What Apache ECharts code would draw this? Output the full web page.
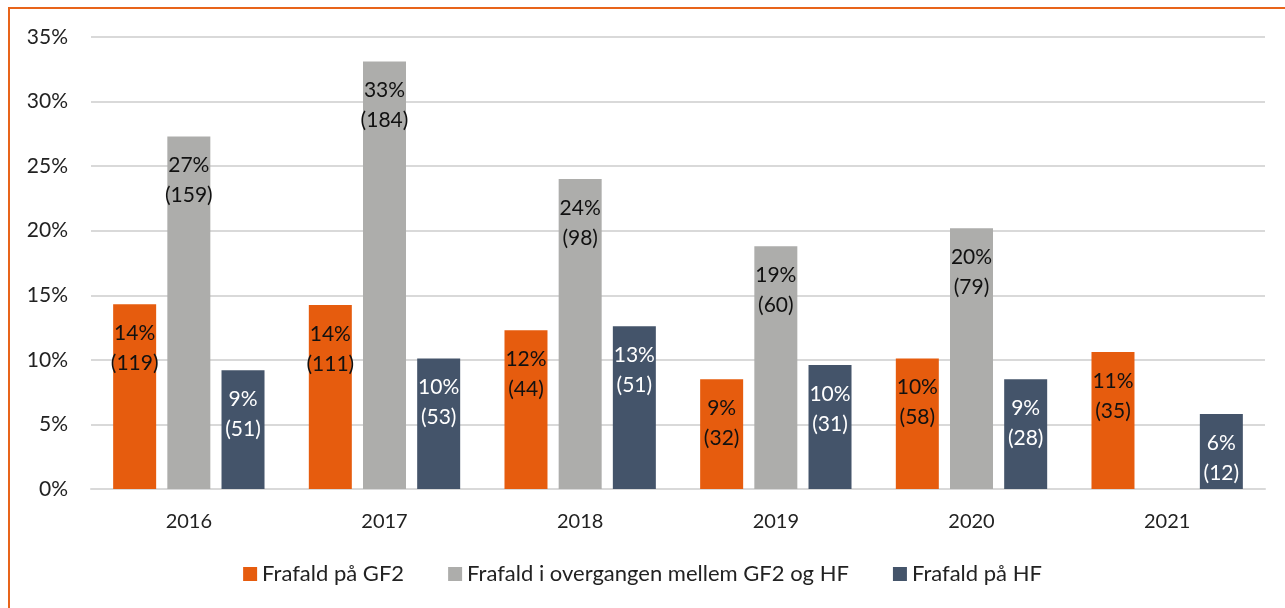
<!DOCTYPE html>
<html>
<head>
<meta charset="utf-8">
<script src="https://cdn.jsdelivr.net/npm/echarts@6/dist/echarts.min.js"></script>
<style>
  html, body { margin: 0; padding: 0; background: #fff; }
  #chart { width: 1285px; height: 608px; }
</style>
</head>
<body>
<div id="chart"></div>
<script>
// data
var years = ['2016', '2017', '2018', '2019', '2020', '2021'];
var gf2Pct = [14.3, 14.25, 12.3, 8.5, 10.1, 10.6];
var gf2N = [119, 111, 44, 32, 58, 35];
var overgangPct = [27.3, 33.1, 24.0, 18.8, 20.2, null];
var overgangN = [159, 184, 98, 60, 79, null];
var hfPct = [9.2, 10.1, 12.6, 9.6, 8.5, 5.8];
var hfN = [51, 53, 51, 31, 28, 12];
var yTicks = [0, 5, 10, 15, 20, 25, 30, 35];

var fontFam = 'Lato, "Open Sans", sans-serif';

function makeLabel(counts, color) {
  return {
    show: true,
    position: 'insideTop',
    distance: 14,
    color: color,
    fontSize: 21,
    lineHeight: 30,
    fontFamily: fontFam,
    formatter: function (p) {
      if (p.value == null) return '';
      return Math.round(p.value) + '%\n(' + counts[p.dataIndex] + ')';
    }
  };
}

var chart = echarts.init(document.getElementById('chart'));
chart.setOption({
  backgroundColor: '#fff',
  animation: false,
  graphic: [{
    type: 'rect',
    shape: { x: 9, y: 8, width: 1400, height: 700 },
    style: { fill: 'none', stroke: '#E8641A', lineWidth: 2 }
  }],
  grid: { left: 91, right: 20, top: 37, bottom: 119 },
  legend: {
    bottom: 18,
    left: 'center',
    itemWidth: 14,
    itemHeight: 14,
    itemGap: 44,
    icon: 'rect',
    textStyle: { fontSize: 22, color: '#222', fontFamily: fontFam },
    data: ['Frafald på GF2', 'Frafald i overgangen mellem GF2 og HF', 'Frafald på HF']
  },
  xAxis: {
    type: 'category',
    data: years,
    axisLine: { lineStyle: { color: '#d9d9d9', width: 2 } },
    axisTick: { show: false },
    axisLabel: { color: '#222', fontSize: 20, margin: 23, fontFamily: fontFam }
  },
  yAxis: {
    type: 'value',
    min: 0,
    max: 35,
    interval: 5,
    axisLine: { show: false },
    axisTick: { show: false },
    splitLine: { lineStyle: { color: '#d9d9d9', width: 2 } },
    axisLabel: {
      color: '#222', fontSize: 21, margin: 23, fontFamily: fontFam,
      formatter: function (v) { return yTicks.indexOf(v) >= 0 ? v + '%' : ''; }
    }
  },
  series: [
    {
      name: 'Frafald på GF2',
      type: 'bar',
      data: gf2Pct,
      barWidth: 43,
      barGap: '26%',
      itemStyle: { color: '#E65C0E' },
      label: makeLabel(gf2N, '#111')
    },
    {
      name: 'Frafald i overgangen mellem GF2 og HF',
      type: 'bar',
      data: overgangPct,
      barWidth: 43,
      barGap: '26%',
      itemStyle: { color: '#ADADAB' },
      label: makeLabel(overgangN, '#111')
    },
    {
      name: 'Frafald på HF',
      type: 'bar',
      data: hfPct,
      barWidth: 43,
      barGap: '26%',
      itemStyle: { color: '#44546A' },
      label: makeLabel(hfN, '#fff')
    }
  ]
});
</script>
</body>
</html>
